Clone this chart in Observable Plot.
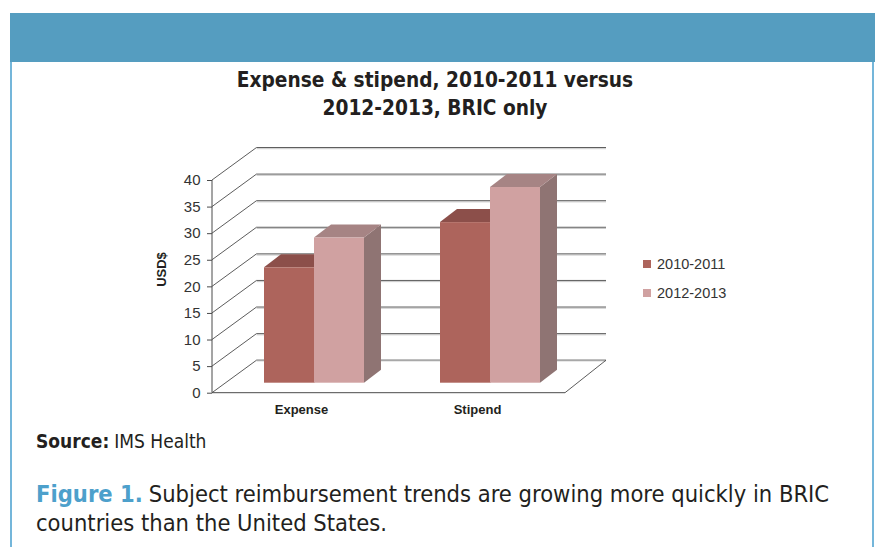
<!DOCTYPE html>
<html><head><meta charset="utf-8">
<script src="https://cdn.jsdelivr.net/npm/d3@7"></script>
<script src="https://cdn.jsdelivr.net/npm/@observablehq/plot@0.6"></script>
<style>
html,body{margin:0;padding:0}
body{width:877px;height:547px;overflow:hidden;background:#fff;position:relative;font-family:"Liberation Sans",Arial,sans-serif;color:#231F20}
#hdr{position:absolute;left:10px;top:13px;width:865px;height:49px;background:#559DC0}
#bl{position:absolute;left:10px;top:62px;width:2px;height:485px;background:#74B6DA}
#br{position:absolute;left:872px;top:62px;width:2px;height:485px;background:#74B6DA}
.cond{font-family:"Liberation Sans Narrow","DejaVu Sans Condensed","DejaVu Sans",sans-serif;font-stretch:condensed}
#title{position:absolute;left:0;width:870px;top:66px;text-align:center;font-weight:bold;font-size:20.7px;line-height:28px}
#title div{white-space:nowrap}
#chart{position:absolute;left:0;top:125px}
#legend{position:absolute;left:643px;top:249.5px;font-size:14.5px;color:#333}
#legend .item{display:flex;align-items:center;height:29px}
#legend .sw{display:inline-block;width:8px;height:8px;margin-right:6px}
#source{position:absolute;left:36px;top:430px;font-size:19px;white-space:nowrap}
#source .lab{font-weight:bold;margin-right:5px}
#caption{position:absolute;left:36px;top:480px;font-size:23.5px;line-height:29px;width:835px}
#caption .line{white-space:nowrap}
#caption .fig{color:#4DA0CB;font-weight:bold;margin-right:6px}
</style></head>
<body>
<div id="hdr"></div><div id="bl"></div><div id="br"></div>
<div id="title" class="cond"></div>
<div id="chart"></div>
<div id="legend"></div>
<div id="source" class="cond"><span class="lab">Source:</span><span>IMS Health</span></div>
<div id="caption" class="cond">
  <div class="line"><span class="fig">Figure 1.</span><span>Subject reimbursement trends are growing more quickly in BRIC</span></div>
  <div class="line"><span>countries than the United States.</span></div>
</div>
<script>
// ---- data ----
const titleLines = ["Expense & stipend, 2010-2011 versus", "2012-2013, BRIC only"];
const categories = ["Expense", "Stipend"];
const seriesNames = ["2010-2011", "2012-2013"];
const values2010 = [21.7, 30.2];
const values2012 = [27.3, 36.8];
const yTicks = [0, 5, 10, 15, 20, 25, 30, 35, 40];
const yLabel = "USD$";

// ---- styles ----
const frontColors = ["#AD645C", "#D0A1A1"];
const topColors = ["#8C4F4A", "#A68484"];
const sideColors = ["#7E4843", "#8F7473"];

document.getElementById("title").innerHTML = titleLines.map(t => `<div>${t.replace("&", "&amp;")}</div>`).join("");

const rows = categories.flatMap((c, i) => [
  {category: c, series: seriesNames[0], s: 0, value: values2010[i]},
  {category: c, series: seriesNames[1], s: 1, value: values2012[i]}
]);

// 3D projection parameters (pixels)
const WALL_DXL = 44.5, WALL_DXR = 41, WALL_DY = -32.5; // back wall offset
const FRONT_DX = 13, FRONT_DY = -10;  // bar front face depth
const BAR_DX = 17, BAR_DY = -13;      // bar depth

function walls(index, scales, values, dim) {
  const {y} = scales;
  const x0 = dim.marginLeft, x1 = dim.width - dim.marginRight;
  const P = (x, yy) => [x + WALL_DXL + (WALL_DXR - WALL_DXL) * (x - x0) / (x1 - x0), yy + WALL_DY];
  const g = d3.create("svg:g");
  const line = (a, b, stroke, w) => g.append("line")
    .attr("x1", a[0]).attr("y1", a[1]).attr("x2", b[0]).attr("y2", b[1])
    .attr("stroke", stroke).attr("stroke-width", w);
  for (const v of yTicks) {
    const yy = y(v);
    if (v === 0) {
      line(P(x0, yy), P(x1, yy), "#a8a8a8", 2);
    } else {
      const a = P(x0, yy), b = P(x1, yy);
      line([a[0], a[1] + 1.2], [b[0], b[1] + 1.2], "#c9c9c9", 1);
      line(a, b, "#5e5e5e", 1);
    }
    line([x0, yy], P(x0, yy), "#4a4a4a", 0.9);
  }
  const y0 = y(0);
  line([x0, y0], [x1, y0], "#4a4a4a", 1);
  line([x1, y0], P(x1, y0), "#4a4a4a", 0.9);
  line([x0, y(yTicks[yTicks.length - 1])], [x0, y0], "#4a4a4a", 1);
  return g.node();
}

function barFaces(index, scales, values, dim) {
  const {x, y} = scales;
  const bw = x.bandwidth() / 2;
  const g = d3.create("svg:g");
  for (const r of rows) {
    const xl = x(r.category) + r.s * bw + FRONT_DX, xr = xl + bw;
    const yt = y(r.value) + FRONT_DY, yb = y(0) + FRONT_DY;
    g.append("polygon")
      .attr("points", [[xr, yt], [xr + BAR_DX, yt + BAR_DY], [xr + BAR_DX, yb + BAR_DY], [xr, yb]].join(" "))
      .attr("fill", sideColors[r.s]);
    g.append("polygon")
      .attr("points", [[xl, yt], [xr, yt], [xr + BAR_DX, yt + BAR_DY], [xl + BAR_DX, yt + BAR_DY]].join(" "))
      .attr("fill", topColors[r.s]);
  }
  return g.node();
}

const plot = Plot.plot({
  width: 877,
  height: 305,
  marginLeft: 212,
  marginRight: 312,
  marginTop: 55,
  marginBottom: 37.3,
  style: {fontFamily: "'Liberation Sans', Arial, sans-serif", color: "#333", background: "transparent", overflow: "visible"},
  x: {type: "band", domain: categories, paddingInner: 0.433, paddingOuter: 0.2165, axis: null},
  y: {domain: [0, 40], axis: null},
  marks: [
    walls,
    Plot.axisY(yTicks, {tickSize: 5, tickPadding: 7, fontSize: 15, label: null, stroke: "#4a4a4a"}),
    barFaces,
    Plot.barY(rows.filter(d => d.s === 0), {x: "category", y: "value", fill: frontColors[0], insetRight: 50, dx: FRONT_DX, dy: FRONT_DY}),
    Plot.barY(rows.filter(d => d.s === 1), {x: "category", y: "value", fill: frontColors[1], insetLeft: 50, dx: FRONT_DX, dy: FRONT_DY}),
    Plot.axisX({tickSize: 0, tickPadding: 12, fontSize: 13, fontWeight: "bold", label: null, fill: "#231F20"}),
    Plot.text([yLabel], {frameAnchor: "left", dx: -51, rotate: -90, fontSize: 13, fontWeight: "bold", fill: "#231F20"})
  ]
});
document.getElementById("chart").appendChild(plot);

document.getElementById("legend").innerHTML = seriesNames.map((s, i) =>
  `<div class="item"><span class="sw" style="background:${frontColors[i]}"></span>${s}</div>`).join("");
</script>
</body></html>
